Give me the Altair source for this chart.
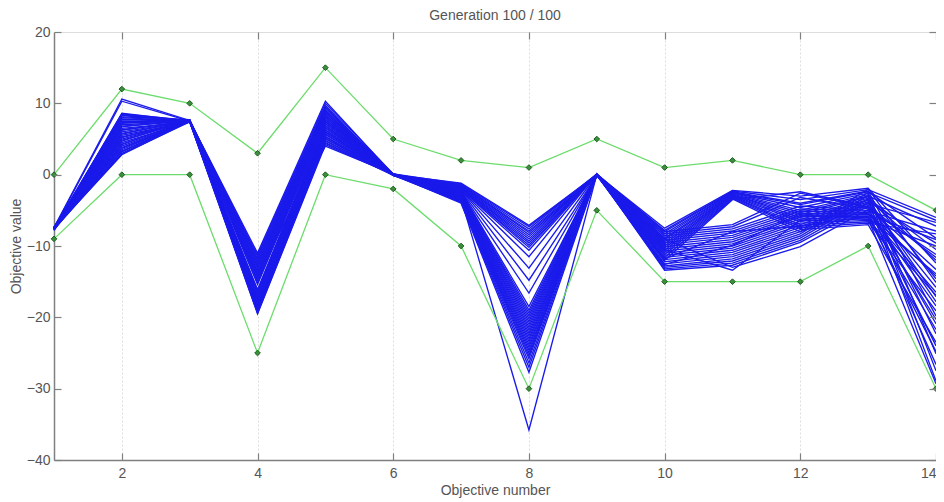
import altair as alt
import pandas as pd

# ---------------- data ----------------
objectives = [1, 2, 3, 4, 5, 6, 7, 8, 9, 10, 11, 12, 13, 14]

upper_bound = [0, 12, 10, 3, 15, 5, 2, 1, 5, 1, 2, 0, 0, -5]
lower_bound = [-9, 0, 0, -25, 0, -2, -10, -30, -5, -15, -15, -15, -10, -30]

obj1 = [-7.4, -7.5, -7.6, -7.5, -7.7, -7.4, -7.6, -7.5, -7.8, -7.5,
        -7.6, -7.4, -7.5, -7.7, -7.6, -7.5, -7.4, -7.6, -7.5, -7.7,
        -7.5, -7.6, -7.4, -7.5, -7.8, -7.6, -7.5, -7.4, -7.6, -7.5,
        -7.7, -7.5, -7.6, -7.4, -7.5, -7.6, -7.7, -7.5, -7.6, -7.5]
obj2 = [10.6, 10.3, 8.6, 8.5, 8.4, 8.3, 8.1, 8.0, 7.8, 7.7,
        7.5, 7.3, 7.2, 7.0, 6.8, 6.7, 6.5, 6.3, 6.2, 6.0,
        5.8, 5.7, 5.5, 5.3, 5.2, 5.0, 4.8, 4.7, 4.5, 4.3,
        4.2, 4.0, 3.8, 3.7, 3.5, 3.3, 3.2, 3.0, 2.9, 2.8]
obj3 = [7.6, 7.5, 7.5, 7.6, 7.4, 7.5, 7.7, 7.5, 7.6, 7.5,
        7.4, 7.5, 7.6, 7.5, 7.5, 7.7, 7.4, 7.5, 7.6, 7.5,
        7.5, 7.6, 7.4, 7.5, 7.5, 7.6, 7.5, 7.7, 7.4, 7.5,
        7.6, 7.5, 7.5, 7.4, 7.6, 7.5, 7.5, 7.6, 7.4, 7.5]
obj4 = [-11.0, -11.3, -11.5, -11.8, -12.0, -12.3, -12.5, -12.8, -13.0, -13.2,
        -13.5, -13.7, -14.0, -14.2, -14.4, -14.7, -14.9, -15.2, -15.4, -16.1,
        -16.3, -16.5, -16.7, -16.9, -17.1, -17.3, -17.5, -17.7, -17.9, -18.1,
        -18.3, -18.5, -18.7, -18.9, -19.0, -19.2, -19.3, -19.4, -19.5, -13.9]
obj5 = [10.3, 10.0, 9.7, 9.5, 9.4, 9.2, 9.0, 8.9, 8.7, 8.6,
        8.4, 8.3, 8.1, 8.0, 7.8, 7.7, 7.5, 7.4, 7.2, 7.1,
        6.9, 6.8, 6.6, 6.5, 6.3, 6.2, 6.0, 5.9, 5.7, 5.6,
        5.4, 5.3, 5.1, 5.0, 4.8, 4.7, 4.5, 4.4, 4.2, 4.0]
obj6 = [0.0, 0.1, -0.1, 0.0, 0.0, 0.1, 0.0, -0.1, 0.0, 0.0,
        0.1, 0.0, 0.0, -0.1, 0.0, 0.0, 0.1, 0.0, -0.1, 0.0,
        0.0, 0.0, 0.1, 0.0, 0.0, -0.1, 0.0, 0.1, 0.0, 0.0,
        -0.1, 0.0, 0.0, 0.1, 0.0, 0.0, -0.1, 0.0, 0.0, 0.1]
obj7 = [-1.2, -1.3, -1.4, -1.5, -1.5, -1.6, -1.7, -1.8, -1.8, -1.9,
        -2.0, -2.0, -2.1, -2.2, -2.2, -2.3, -2.4, -2.4, -2.5, -2.6,
        -2.6, -2.7, -2.8, -2.8, -2.9, -3.0, -3.0, -3.1, -3.2, -3.3,
        -3.3, -3.4, -3.5, -3.5, -3.6, -3.7, -3.8, -3.9, -4.0, -3.4]
obj8 = [-7.1, -7.3, -7.6, -7.9, -8.1, -8.4, -8.7, -9.0, -9.3, -9.6,
        -9.9, -10.2, -10.6, -11.5, -13.1, -14.8, -16.6, -18.5, -19.0, -19.4,
        -19.8, -20.2, -20.6, -21.0, -21.4, -21.8, -22.2, -22.6, -23.0, -23.4,
        -23.8, -24.2, -24.6, -25.0, -25.4, -25.8, -26.4, -27.0, -27.7, -35.8]
obj9 = [0.0, 0.0, 0.1, 0.0, -0.1, 0.0, 0.0, 0.1, 0.0, 0.0,
        -0.1, 0.0, 0.0, 0.1, 0.0, -0.1, 0.0, 0.0, 0.1, 0.0,
        0.0, -0.1, 0.0, 0.0, 0.1, 0.0, 0.0, -0.1, 0.0, 0.1,
        0.0, 0.0, -0.1, 0.0, 0.0, 0.1, 0.0, 0.0, -0.1, 0.0]
obj10 = [-7.5, -7.8, -8.0, -8.3, -8.6, -8.9, -9.1, -9.4, -9.7, -10.0,
         -10.3, -10.6, -10.9, -11.2, -11.6, -12.0, -8.0, -8.3, -8.6, -8.9,
         -9.2, -9.5, -9.8, -10.1, -10.4, -10.7, -11.0, -11.3, -11.6, -11.9,
         -12.2, -12.5, -12.8, -13.0, -13.2, -13.4, -9.0, -10.5, -11.8, -12.6]
obj11 = [-2.2, -2.3, -2.4, -2.5, -2.5, -2.6, -2.7, -2.8, -2.8, -2.9,
         -3.0, -3.1, -3.2, -3.3, -3.4, -3.5, -7.0, -7.3, -7.6, -7.9,
         -8.2, -8.5, -8.8, -9.1, -9.4, -9.7, -10.0, -10.3, -10.6, -10.9,
         -11.2, -11.5, -11.8, -12.1, -12.4, -12.7, -13.0, -13.4, -8.0, -9.9]
obj12 = [-3.0, -3.5, -4.0, -4.2, -4.6, -5.0, -5.3, -5.6, -6.0, -6.3,
         -6.6, -7.0, -7.3, -7.6, -8.0, -2.4, -2.6, -3.2, -4.4, -4.8,
         -5.1, -5.4, -5.7, -5.9, -6.2, -6.5, -6.8, -7.1, -7.4, -7.7,
         -8.0, -8.3, -8.6, -8.9, -9.2, -9.5, -10.1, -6.4, -7.2, -5.5]
obj13 = [-1.9, -2.1, -2.3, -2.4, -2.6, -2.8, -3.0, -3.1, -3.3, -3.5,
         -3.6, -3.8, -4.0, -4.1, -4.3, -4.5, -4.6, -4.8, -5.0, -5.1,
         -5.3, -5.5, -5.6, -5.8, -6.0, -6.2, -6.4, -6.6, -6.8, -7.0,
         -2.0, -2.5, -2.9, -3.4, -3.9, -4.4, -4.9, -5.4, -5.9, -6.3]
obj14 = [-12.4, -6.0, -19.8, -8.9, -25.1, -14.6, -7.2, -22.3, -10.5, -17.1,
         -28.9, -9.6, -15.8, -6.7, -20.9, -13.3, -24.0, -11.2, -18.4, -7.9,
         -26.6, -16.5, -9.1, -21.7, -13.9, -29.3, -10.0, -19.1, -8.3, -23.5,
         -15.1, -6.4, -27.5, -12.0, -17.8, -11.6, -20.3, -14.2, -24.8, -16.9]

x_tick_values = [2, 4, 6, 8, 10, 12, 14]
y_tick_values = [-40, -30, -20, -10, 0, 10, 20]

# ---------------- tables ----------------
population = [obj1, obj2, obj3, obj4, obj5, obj6, obj7,
              obj8, obj9, obj10, obj11, obj12, obj13, obj14]
rows = []
for k, vals in enumerate(population):
    for i, v in enumerate(vals):
        rows.append({"line": i, "objective": objectives[k], "value": v})
pop_df = pd.DataFrame(rows)

brows = []
for k in range(len(objectives)):
    brows.append({"bound": "upper", "objective": objectives[k], "value": upper_bound[k]})
    brows.append({"bound": "lower", "objective": objectives[k], "value": lower_bound[k]})
bounds_df = pd.DataFrame(brows)

# ---------------- style ----------------
W, H = 882, 428
FONT = "Liberation Sans"
TXT = "#555555"
FRAME = "#808080"

xscale = alt.Scale(domain=[1, 14], nice=False, zero=False)
yscale = alt.Scale(domain=[-40, 20], nice=False, zero=False)

main_x_axis = alt.Axis(orient="bottom", values=x_tick_values, title="Objective number",
                       ticks=False, grid=True, gridColor="#d4d4d4", gridDash=[2, 2],
                       gridWidth=0.8, domainColor=FRAME, domainWidth=1.5,
                       labelFont=FONT, labelFontSize=14, labelColor=TXT, labelPadding=6,
                       titleFont=FONT, titleFontSize=14, titleFontWeight="normal",
                       titleColor=TXT, titlePadding=3)
main_y_axis = alt.Axis(orient="left", values=y_tick_values, title="Objective value",
                       ticks=False, grid=False, domainColor=FRAME, domainWidth=1.5,
                       labelFont=FONT, labelFontSize=14, labelColor=TXT, labelPadding=4,
                       titleFont=FONT, titleFontSize=14, titleFontWeight="normal",
                       titleColor=TXT, titlePadding=3)


def tick_axis(orient, values, offset):
    return alt.Axis(orient=orient, values=values, offset=offset, title=None,
                    labels=False, domain=False, grid=False, ticks=True,
                    tickSize=7, tickColor=FRAME, tickWidth=1.2, zindex=1)


blue = alt.Chart(pop_df).mark_line(color="#1a1aeb", strokeWidth=1.35).encode(
    x=alt.X("objective:Q", scale=xscale, axis=main_x_axis),
    y=alt.Y("value:Q", scale=yscale, axis=main_y_axis),
    detail="line:N",
)

green_lines = alt.Chart(bounds_df).mark_line(color="#6cdc6c", strokeWidth=1.3).encode(
    x=alt.X("objective:Q", scale=xscale, axis=tick_axis("top", x_tick_values, -H)),
    y=alt.Y("value:Q", scale=yscale, axis=tick_axis("right", y_tick_values, -W)),
    detail="bound:N",
)

green_pts = alt.Chart(bounds_df).mark_point(
    shape="diamond", filled=True, fill="#3c8f3c", stroke="#1e5e1e",
    strokeWidth=1, size=32, opacity=1
).encode(
    x=alt.X("objective:Q", scale=xscale, axis=tick_axis("bottom", x_tick_values, -H)),
    y=alt.Y("value:Q", scale=yscale, axis=tick_axis("left", y_tick_values, -W)),
)

chart = alt.layer(blue, green_lines, green_pts).resolve_axis(
    x="independent", y="independent"
).properties(
    width=W, height=H,
    padding={"left": 46, "top": 24, "right": 0, "bottom": 42},
    autosize=alt.AutoSizeParams(type="none"),
    title=alt.TitleParams("Generation 100 / 100", font=FONT, fontSize=14,
                          fontWeight="normal", color=TXT, offset=2, anchor="middle"),
).configure_view(stroke=FRAME, strokeWidth=1.5).configure(background="white")

chart.save("out.html", embed_options={"renderer": "svg", "actions": False})
